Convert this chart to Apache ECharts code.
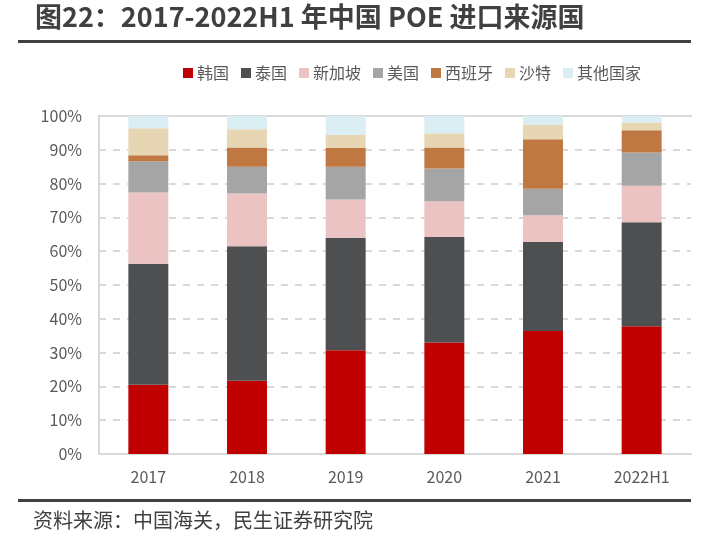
<!DOCTYPE html>
<html>
<head>
<meta charset="utf-8">
<script src="https://cdn.jsdelivr.net/npm/echarts@6/dist/echarts.min.js"></script>
<style>
  html, body { margin: 0; padding: 0; background: #fff; }
  #chart { width: 724px; height: 551px; }
</style>
</head>
<body>
<div id="chart"></div>
<script>
// 年份
const years = ['2017', '2018', '2019', '2020', '2021', '2022H1'];
// 各来源国占比 (%)
const korea     = [20.5, 21.7, 30.7, 33.0, 36.4, 37.8];
const thailand  = [35.8, 39.8, 33.3, 31.2, 26.3, 30.8];
const singapore = [21.1, 15.6, 11.3, 10.6, 7.9, 10.8];
const usa       = [9.2, 7.9, 9.7, 9.7, 7.9, 9.8];
const spain     = [1.8, 5.7, 5.5, 6.2, 14.6, 6.6];
const saudi     = [8.0, 5.4, 3.9, 4.2, 4.4, 2.3];
const others    = [3.6, 3.9, 5.6, 5.1, 2.5, 1.9];

const FONT = '"Noto Sans CJK SC", "Noto Sans", sans-serif';

const seriesDefs = [
  ['韩国', korea, '#C00000'],
  ['泰国', thailand, '#4D4F51'],
  ['新加坡', singapore, '#EBC3C3'],
  ['美国', usa, '#A5A5A5'],
  ['西班牙', spain, '#BF7841'],
  ['沙特', saudi, '#E6D6B4'],
  ['其他国家', others, '#DAEEF3']
];

const chart = echarts.init(document.getElementById('chart'));
chart.setOption({
  animation: false,
  textStyle: { fontFamily: FONT },
  graphic: [
    {
      type: 'text', left: 35, top: 3,
      style: { text: '图22：2017-2022H1 年中国 POE 进口来源国', font: 'bold 27px ' + FONT, fill: '#404040' }
    },
    {
      type: 'rect', shape: { x: 18, y: 40, width: 673, height: 3 },
      style: { fill: '#404040' }
    },
    {
      type: 'rect', shape: { x: 18, y: 499, width: 673, height: 3 },
      style: { fill: '#404040' }
    },
    {
      type: 'text', left: 33, top: 510,
      style: { text: '资料来源：中国海关，民生证券研究院', font: '20px ' + FONT, fill: '#404040' }
    }
  ],
  legend: {
    top: 60,
    left: 178,
    itemWidth: 10,
    itemHeight: 10,
    itemGap: 12,
    icon: 'rect',
    textStyle: { fontSize: 16, color: '#595959', fontFamily: FONT, padding: [0, 0, 0, -1] },
    data: seriesDefs.map(d => d[0])
  },
  grid: { left: 99, right: 33, top: 116, bottom: 97 },
  xAxis: [
    {
      type: 'category',
      data: years,
      axisTick: { show: false },
      axisLine: { lineStyle: { color: '#D9D9D9', width: 2 } },
      axisLabel: { color: '#595959', fontSize: 16, margin: 15, fontFamily: FONT }
    },
    {
      type: 'category',
      data: years,
      position: 'top',
      axisTick: { show: false },
      axisLabel: { show: false },
      axisLine: { lineStyle: { color: '#D9D9D9', width: 2 } }
    }
  ],
  yAxis: {
    type: 'value',
    min: 0,
    max: 100,
    interval: 10,
    axisLine: { show: true, lineStyle: { color: '#D9D9D9', width: 2 } },
    axisTick: { show: false },
    axisLabel: { formatter: '{value}%', color: '#595959', fontSize: 16, margin: 17, fontFamily: FONT },
    splitLine: { lineStyle: { color: '#D9D9D9', width: 2, type: [7, 7] } }
  },
  series: seriesDefs.map(([name, data, color]) => ({
    name,
    type: 'bar',
    stack: 'total',
    barWidth: '40.5%',
    data,
    itemStyle: { color }
  }))
});
</script>
</body>
</html>
